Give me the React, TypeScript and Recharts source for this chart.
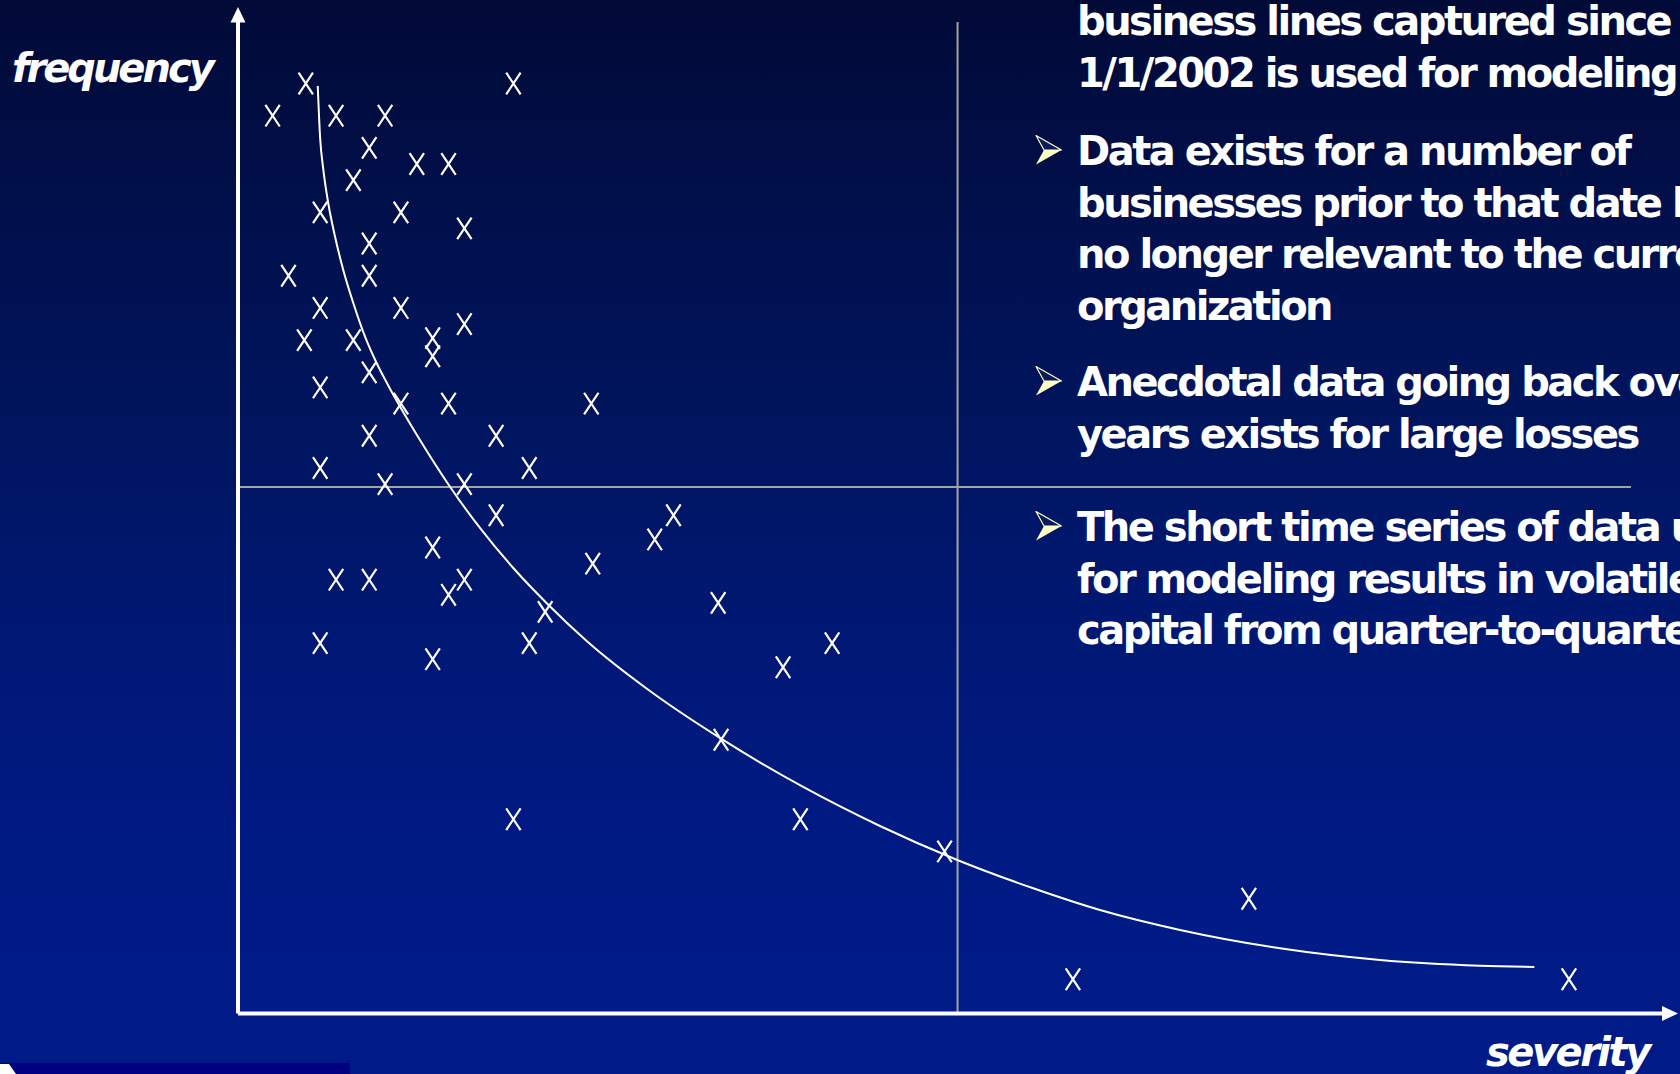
import React from "react";
import {
  ReferenceDot,
  ReferenceLine,
  Scatter,
  ScatterChart,
  XAxis,
  YAxis,
} from "recharts";

const W = 1680;
const H = 1074;

// observed losses: severity (x) vs frequency (y), both on a 0–100 scale
const lossSeverity = [
  4.7, 19.1, 2.4, 6.8, 10.2, 9.1, 12.4, 14.6, 8.0, 5.7, 11.3, 15.7, 9.1, 3.5,
  9.1, 5.7, 11.3, 15.7, 4.6, 8.0, 13.5, 13.5, 9.1, 5.7, 11.3, 14.6, 24.5, 9.1,
  17.9, 5.7, 20.2, 10.2, 15.7, 17.9, 30.2, 28.9, 13.5, 24.6, 6.8, 9.1, 15.7,
  14.6, 21.3, 33.3, 5.7, 20.2, 41.2, 13.5, 37.8, 33.5, 19.1, 39.0, 49.0, 70.1,
  57.9, 92.3,
];
const lossFrequency = [
  92.4, 92.4, 89.2, 89.2, 89.2, 86.0, 84.4, 84.4, 82.8, 79.6, 79.6, 78.0, 76.5,
  73.3, 73.3, 70.1, 70.1, 68.5, 66.9, 66.9, 67.1, 65.3, 63.7, 62.2, 60.6, 60.6,
  60.6, 57.4, 57.4, 54.2, 54.2, 52.6, 52.6, 49.5, 49.5, 47.1, 46.3, 44.7, 43.1,
  43.1, 43.1, 41.6, 39.9, 40.8, 36.8, 36.8, 36.8, 35.2, 34.4, 27.2, 19.3, 19.3,
  16.1, 11.4, 3.4, 3.4,
];

// fitted frequency/severity curve
const curveSeverity = [
  5.53, 5.69, 5.92, 6.26, 6.73, 7.3, 8.0, 8.81, 9.62, 10.4, 12.62, 14.7, 16.78,
  19.09, 21.41, 24.18, 28.57, 33.47, 38.97, 44.52, 49.84, 55.15, 59.78, 65.33,
  72.26, 79.2, 86.13, 89.9,
];
const curveFrequency = [
  92.15, 87.11, 83.81, 80.5, 77.18, 73.87, 70.56, 67.24, 64.6, 62.45, 56.98,
  52.34, 48.24, 44.26, 40.76, 37.01, 32.04, 27.33, 22.68, 18.63, 15.28, 12.44,
  10.28, 8.3, 6.48, 5.32, 4.75, 4.62,
];

// quadrant split
const SEVERITY_SPLIT = 49.9;
const FREQUENCY_SPLIT = 52.3;

const bullets = [
  {
    arrow: false,
    lines: ["business lines captured since", "1/1/2002 is used for modeling"],
    baseline: 35,
  },
  {
    arrow: true,
    lines: [
      "Data exists for a number of",
      "businesses prior to that date but",
      "no longer relevant to the current",
      "organization",
    ],
    baseline: 165,
  },
  {
    arrow: true,
    lines: ["Anecdotal data going back over", "years exists for large losses"],
    baseline: 396,
  },
  {
    arrow: true,
    lines: [
      "The short time series of data used",
      "for modeling results in volatile",
      "capital from quarter-to-quarter",
    ],
    baseline: 541,
  },
];
const LINE_GAP = 51.5;

const losses = lossSeverity.map((s, i) => ({ severity: s, frequency: lossFrequency[i] }));
const curve = curveSeverity.map((s, i) => ({ severity: s, frequency: curveFrequency[i] }));

function XMark(props: any) {
  const { cx, cy } = props;
  if (cx == null || cy == null) return <g />;
  const w = 7.2;
  const h = 10.8;
  return (
    <path
      d={`M${cx - w},${cy - h}L${cx + w},${cy + h}M${cx + w},${cy - h}L${cx - w},${cy + h}`}
      stroke="#ffffff"
      strokeWidth={2.2}
      fill="none"
    />
  );
}

const UpArrow = (props: any) => {
  const { cx, cy } = props;
  return <polygon points={`${cx},${cy} ${cx - 7.5},${cy + 15.5} ${cx + 7.5},${cy + 15.5}`} fill="#fff" />;
};

const RightArrow = (props: any) => {
  const { cx, cy } = props;
  return <polygon points={`${cx - 2},${cy} ${cx - 18},${cy - 7.5} ${cx - 18},${cy + 7.5}`} fill="#fff" />;
};

function Bullet({ x, cy }: { x: number; cy: number }) {
  return (
    <g>
      <polygon
        points={`${x},${cy - 14.5} ${x + 25.5},${cy} ${x + 8},${cy}`}
        fill="#0a1a5a"
        stroke="#ffffcc"
        strokeWidth={1.2}
        strokeLinejoin="round"
      />
      <polygon points={`${x + 8},${cy} ${x + 25.5},${cy} ${x},${cy + 14.5}`} fill="#ffffc8" />
    </g>
  );
}

export default function App() {
  const font = "'DejaVu Sans', Verdana, sans-serif";
  return (
    <div
      style={{
        position: "absolute",
        left: 0,
        top: 0,
        width: W,
        height: H,
        overflow: "hidden",
        background:
          "linear-gradient(to bottom, #010a37 0%, #01104c 20%, #00155f 40%, #001875 60%, #001a84 78%, #001b88 100%)",
      }}
    >
      <ScatterChart
        width={W}
        height={H}
        margin={{ top: 7, right: 0, bottom: 60.5, left: 238 }}
        style={{ position: "absolute", left: 0, top: 0 }}
      >
        <XAxis type="number" dataKey="severity" domain={[0, 100]} allowDataOverflow hide />
        <YAxis type="number" dataKey="frequency" domain={[0, 100]} allowDataOverflow hide />
        <ReferenceLine
          segment={[
            { x: SEVERITY_SPLIT, y: 0 },
            { x: SEVERITY_SPLIT, y: 98.5 },
          ]}
          stroke="#a3a3a3"
          strokeWidth={2}
          ifOverflow="visible"
        />
        <ReferenceLine
          segment={[
            { x: 0, y: FREQUENCY_SPLIT },
            { x: 96.6, y: FREQUENCY_SPLIT },
          ]}
          stroke="#a3a3a3"
          strokeWidth={2}
          ifOverflow="visible"
        />
        {/* axes drawn as heavy white lines with arrowheads */}
        <ReferenceLine
          segment={[
            { x: 0, y: 0 },
            { x: 98.8, y: 0 },
          ]}
          stroke="#ffffff"
          strokeWidth={4}
          ifOverflow="visible"
        />
        <ReferenceLine
          segment={[
            { x: 0, y: 0 },
            { x: 0, y: 98.8 },
          ]}
          stroke="#ffffff"
          strokeWidth={4}
          ifOverflow="visible"
        />
        <ReferenceDot x={0} y={100} r={0} shape={UpArrow} ifOverflow="visible" />
        <ReferenceDot x={100} y={0} r={0} shape={RightArrow} ifOverflow="visible" />
        <Scatter
          data={curve}
          line={{ stroke: "#ffffff", strokeWidth: 2 }}
          lineType="joint"
          lineJointType="monotoneX"
          shape={() => <g />}
          isAnimationActive={false}
        />
        <Scatter data={losses} shape={XMark} isAnimationActive={false} />
      </ScatterChart>

      <svg
        width={W}
        height={H}
        style={{ position: "absolute", left: 0, top: 0, pointerEvents: "none" }}
      >
        <text
          x={12}
          y={82}
          fill="#fff"
          fontFamily={font}
          fontWeight="bold"
          fontStyle="italic"
          fontSize={40}
          letterSpacing={-3}
        >
          frequency
        </text>
        <text
          x={1486}
          y={1066}
          fill="#fff"
          fontFamily={font}
          fontWeight="bold"
          fontStyle="italic"
          fontSize={40}
          letterSpacing={-2.5}
        >
          severity
        </text>
        {bullets.map((b, i) => (
          <g key={i}>
            {b.arrow && <Bullet x={1036} cy={b.baseline - 15} />}
            {b.lines.map((line, j) => (
              <text
                key={j}
                x={1077}
                y={b.baseline + j * LINE_GAP}
                fill="#fff"
                fontFamily={font}
                fontWeight="bold"
                fontSize={40}
                letterSpacing={-2.5}
              >
                {line}
              </text>
            ))}
          </g>
        ))}
        <rect x={0} y={1063} width={350} height={11} fill="#000080" />
        <polygon points="0,1064 9,1064 16,1074 0,1074" fill="#ffffff" />
      </svg>
    </div>
  );
}
